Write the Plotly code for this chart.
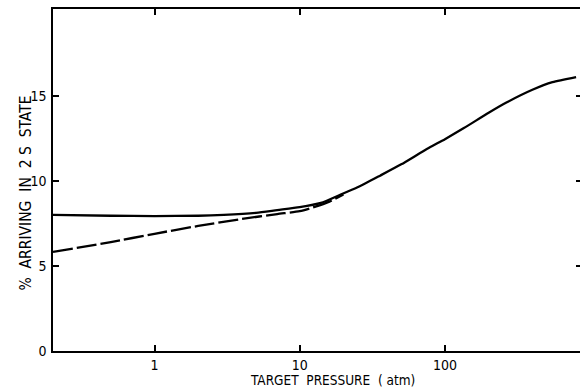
import plotly.graph_objects as go

# Target pressure (atm) and percentage arriving in the 2S state
pressure_solid = [0.2, 0.5, 1, 2, 3, 5, 7, 10, 14, 19, 25, 36, 50, 75, 100, 135, 200, 265, 400, 550, 800]
pct_solid = [8.0, 7.95, 7.93, 7.95, 8.0, 8.12, 8.28, 8.45, 8.7, 9.18, 9.62, 10.32, 10.97, 11.87, 12.45, 13.1, 14.0, 14.6, 15.35, 15.8, 16.1]

pressure_dashed = [0.2, 0.5, 1, 2, 4, 7, 10, 13, 16, 20]
pct_dashed = [5.82, 6.4, 6.89, 7.35, 7.76, 8.05, 8.22, 8.5, 8.78, 9.2]

x_ticks = [1, 10, 100]
x_tick_text = ["1", "10", "100"]
y_ticks = [0, 5, 10, 15]
y_tick_text = ["0", "5", "10", "15"]

FONT = "DejaVu Sans Condensed, DejaVu Sans, sans-serif"
NB = "\u00a0"

fig = go.Figure()
fig.add_trace(go.Scatter(
    x=pressure_solid, y=pct_solid, mode="lines",
    line=dict(color="black", width=2.3, shape="spline", smoothing=0.6),
    showlegend=False, hoverinfo="skip"))
fig.add_trace(go.Scatter(
    x=pressure_dashed, y=pct_dashed, mode="lines",
    line=dict(color="black", width=2.3, dash="20px,4px", shape="spline", smoothing=0.6),
    showlegend=False, hoverinfo="skip"))
# invisible trace so the right-hand tick axis is drawn
fig.add_trace(go.Scatter(x=[1], y=[0], yaxis="y2", mode="markers",
                         marker=dict(opacity=0), showlegend=False, hoverinfo="skip"))

fig.update_layout(
    width=580, height=387,
    margin=dict(l=53, r=0, t=9, b=36),
    paper_bgcolor="white", plot_bgcolor="white",
    font=dict(family=FONT, size=14, color="black"),
    xaxis=dict(
        type="log", range=[-0.699, 2.93],
        tickvals=x_ticks, ticktext=x_tick_text,
        ticks="inside", ticklen=6, tickwidth=1.5, tickcolor="black",
        showline=True, linecolor="black", linewidth=1.5, mirror="ticks",
        showgrid=False, zeroline=False,
        tickfont=dict(family=FONT, size=14),
    ),
    yaxis=dict(
        range=[0, 20.1],
        tickvals=y_ticks, ticktext=y_tick_text,
        ticks="inside", ticklen=6, tickwidth=1.5, tickcolor="black",
        showline=True, linecolor="black", linewidth=1.5,
        showgrid=False, zeroline=False,
        tickfont=dict(family=FONT, size=14),
        ticklabelstandoff=2,
    ),
    yaxis2=dict(
        overlaying="y", side="right", range=[0, 20.1],
        tickvals=y_ticks, ticks="inside", ticklen=4, tickwidth=1.5, tickcolor="black",
        showticklabels=False, showline=False, showgrid=False, zeroline=False,
    ),
    annotations=[
        dict(text=f"%{NB}{NB}ARRIVING{NB}{NB}IN{NB}{NB}2{NB}S{NB}{NB}STATE",
             xref="paper", yref="paper", x=-0.053, y=0.4605,
             xanchor="center", yanchor="middle", textangle=-90,
             showarrow=False, font=dict(family=FONT, size=15.5)),
        dict(text=f"TARGET{NB}{NB}PRESSURE{NB}{NB}({NB}atm)",
             xref="paper", yref="paper", x=0.531, y=-0.085,
             xanchor="center", yanchor="middle",
             showarrow=False, font=dict(family=FONT, size=13.5)),
    ],
)

fig.write_html("out.html")
